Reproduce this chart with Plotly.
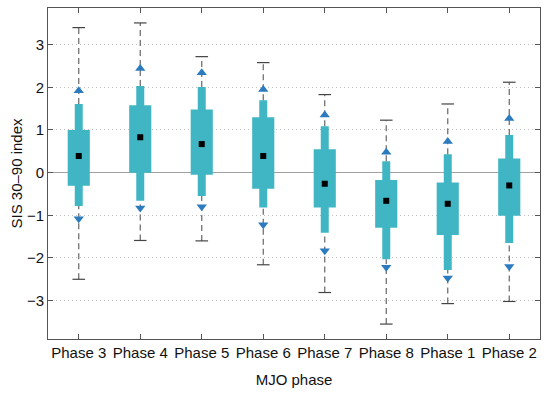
import plotly.graph_objects as go

phases = ["Phase 3", "Phase 4", "Phase 5", "Phase 6", "Phase 7", "Phase 8", "Phase 1", "Phase 2"]
cap_hi   = [3.40, 3.51, 2.72, 2.58, 1.83, 1.23, 1.61, 2.12]
tri_hi   = [1.92, 2.44, 2.34, 1.95, 1.35, 0.48, 0.73, 1.27]
thin_hi  = [1.61, 2.03, 2.01, 1.70, 1.09, 0.27, 0.43, 0.88]
thick_hi = [1.00, 1.58, 1.48, 1.30, 0.55, -0.17, -0.23, 0.33]
means    = [0.39, 0.83, 0.67, 0.39, -0.26, -0.66, -0.73, -0.30]
thick_lo = [-0.31, 0.00, -0.05, -0.38, -0.82, -1.29, -1.46, -1.01]
thin_lo  = [-0.78, -0.66, -0.55, -0.82, -1.41, -2.03, -2.28, -1.65]
tri_lo   = [-1.08, -0.83, -0.80, -1.22, -1.83, -2.22, -2.47, -2.20]
cap_lo   = [-2.50, -1.59, -1.60, -2.16, -2.81, -3.55, -3.07, -3.02]

TEAL = "#40B6C4"
BLUE = "#2B7BBE"
DARK = "#555555"

xs = list(range(len(phases)))
fig = go.Figure()

# thin bars
fig.add_trace(go.Bar(x=xs, base=thin_lo, y=[h - l for h, l in zip(thin_hi, thin_lo)],
                     width=0.13, marker=dict(color=TEAL, line=dict(width=0)),
                     showlegend=False))
# thick bars
fig.add_trace(go.Bar(x=xs, base=thick_lo, y=[h - l for h, l in zip(thick_hi, thick_lo)],
                     width=0.36, marker=dict(color=TEAL, line=dict(width=0)),
                     showlegend=False))

# dashed whiskers (outside the bars)
wx, wy = [], []
for i in xs:
    wx += [i, i, None, i, i, None]
    wy += [cap_lo[i], thin_lo[i], None, thin_hi[i], cap_hi[i], None]
fig.add_trace(go.Scatter(x=wx, y=wy, mode="lines",
                         line=dict(color="#666666", width=1.2, dash="6px,4px"),
                         hoverinfo="skip", showlegend=False))
# caps
fig.add_trace(go.Scatter(x=xs + xs, y=cap_hi + cap_lo, mode="markers",
                         marker=dict(symbol="line-ew", size=9,
                                     line=dict(color="#444444", width=1.2)),
                         showlegend=False))
# triangles
fig.add_trace(go.Scatter(x=xs, y=tri_hi, mode="markers",
                         marker=dict(symbol="triangle-up", size=9, color=BLUE),
                         showlegend=False))
fig.add_trace(go.Scatter(x=xs, y=tri_lo, mode="markers",
                         marker=dict(symbol="triangle-down", size=9, color=BLUE),
                         showlegend=False))
# means
fig.add_trace(go.Scatter(x=xs, y=means, mode="markers",
                         marker=dict(symbol="square", size=6, color="black"),
                         showlegend=False))

fig.update_layout(
    width=550, height=397,
    margin=dict(l=48, r=10, t=8, b=58, autoexpand=False),
    paper_bgcolor="white", plot_bgcolor="white",
    barmode="overlay",
    font=dict(family="Liberation Sans, Arial, sans-serif", size=15, color="#111111"),
    xaxis=dict(range=[-0.5, 7.5], tickmode="array", tickvals=xs, ticktext=phases,
               ticks="inside", ticklen=5, tickcolor=DARK, showgrid=False,
               showline=True, linecolor=DARK, linewidth=1, mirror="ticks",
               zeroline=False, automargin=False,
               title=dict(text="MJO phase", standoff=14, font=dict(size=15)),
               tickfont=dict(size=15)),
    yaxis=dict(range=[-3.9, 3.86], tickvals=[-3, -2, -1, 0, 1, 2, 3],
               ticktext=["\u22123", "\u22122", "\u22121", "0", "1", "2", "3"],
               ticks="inside", ticklen=5, tickcolor=DARK,
               showline=True, linecolor=DARK, linewidth=1, mirror="ticks",
               showgrid=True, gridcolor="#C0C0C0", griddash="1px,3px", gridwidth=1,
               zeroline=True, zerolinecolor="#A0A0A0", zerolinewidth=1.2,
               automargin=False,
               title=dict(text="SIS 30\u201390 index", standoff=0, font=dict(size=15)),
               tickfont=dict(size=15)),
)

fig.write_html("out.html", config={"displayModeBar": False},
               post_script="document.body.style.margin='0';document.body.style.overflow='hidden';")
